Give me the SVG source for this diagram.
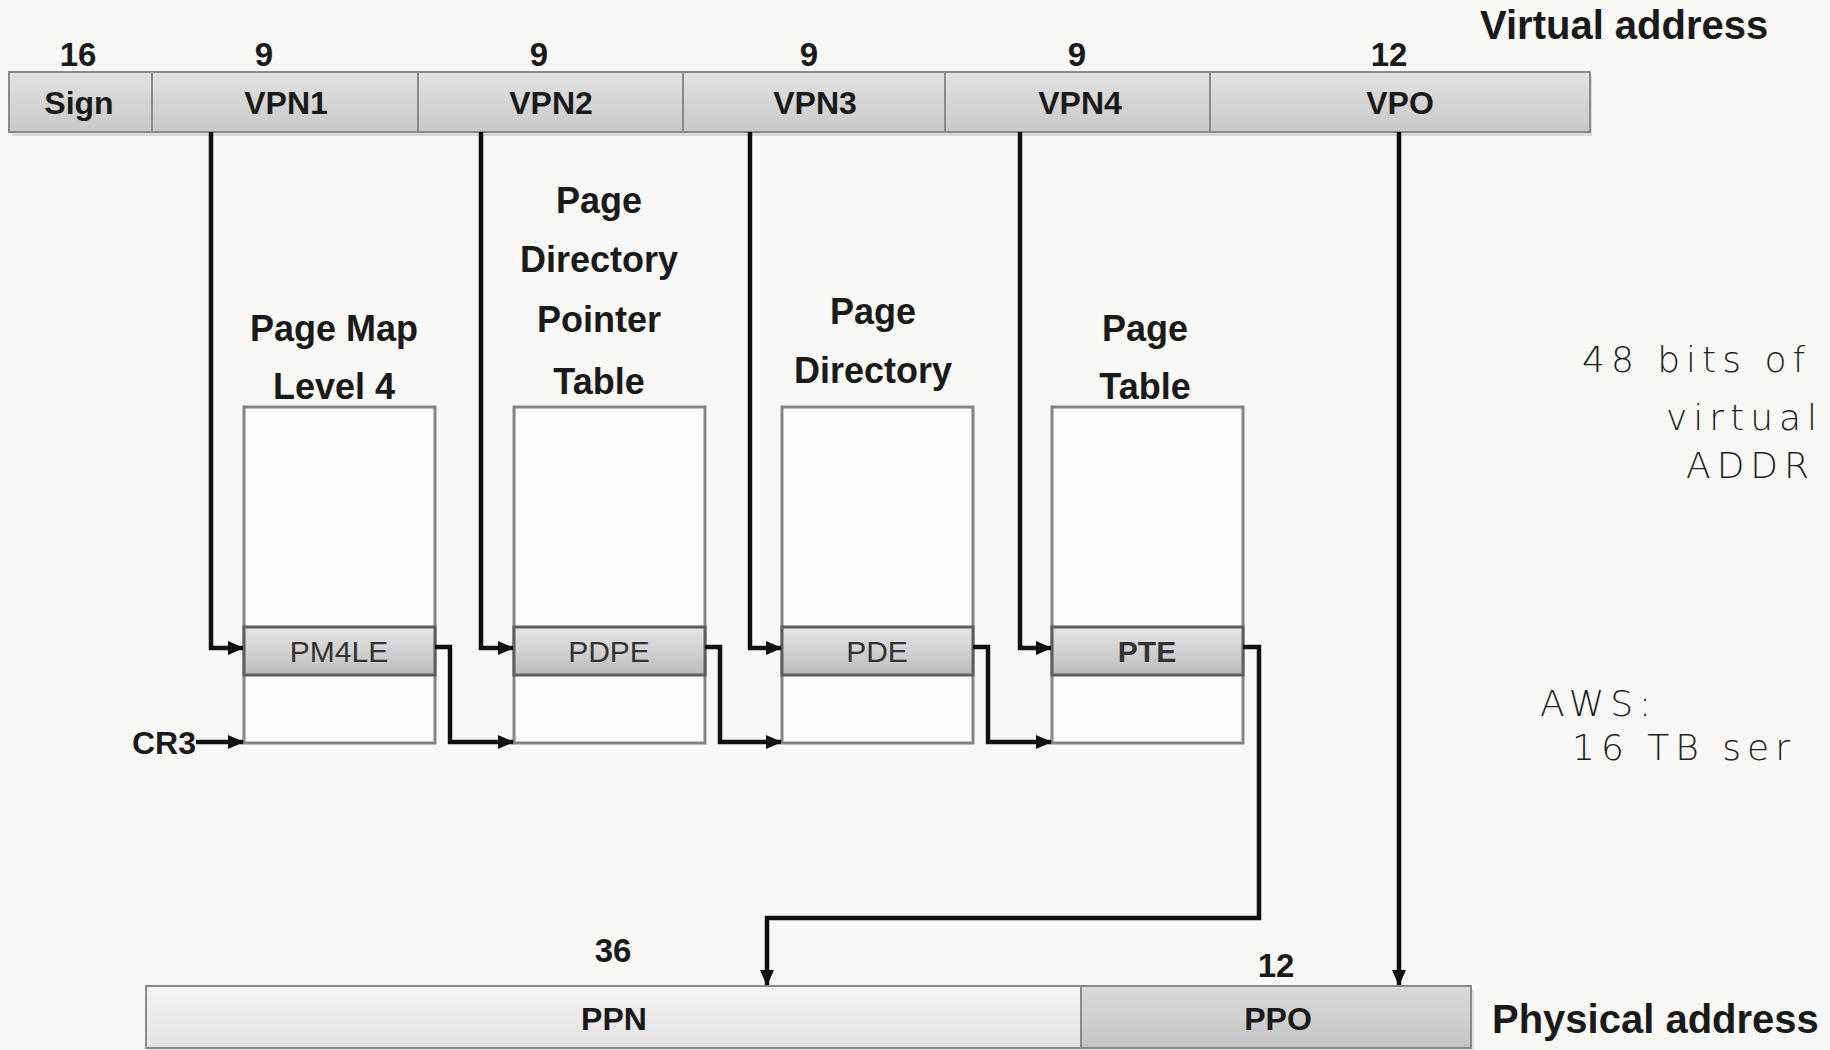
<svg xmlns="http://www.w3.org/2000/svg" width="1830" height="1050" viewBox="0 0 1830 1050">
<defs>
<linearGradient id="barG" x1="0" y1="0" x2="0" y2="1">
<stop offset="0" stop-color="#e2e2e2"/><stop offset="1" stop-color="#c9c9c9"/>
</linearGradient>
<linearGradient id="ppnG" x1="0" y1="0" x2="0" y2="1">
<stop offset="0" stop-color="#f4f4f4"/><stop offset="1" stop-color="#e2e2e2"/>
</linearGradient>
<linearGradient id="ppoG" x1="0" y1="0" x2="0" y2="1">
<stop offset="0" stop-color="#dadada"/><stop offset="1" stop-color="#c4c4c4"/>
</linearGradient>
<linearGradient id="entG" x1="0" y1="0" x2="0" y2="1">
<stop offset="0" stop-color="#e6e6e6"/><stop offset="1" stop-color="#bcbcbc"/>
</linearGradient>
<marker id="arr" markerUnits="userSpaceOnUse" markerWidth="16" markerHeight="14" refX="15" refY="7" orient="auto">
<path d="M0,0 L16,7 L0,14 z" fill="#111"/>
</marker>
</defs>
<style>
.b{font-family:"Liberation Sans",Arial,sans-serif;font-weight:bold;fill:#1a1a1a;text-anchor:middle}
.fld{font-size:32px}
.num{font-size:33px}
.ttl{font-size:36px}
.big{font-size:40px;text-anchor:start}
.ent{font-family:"Liberation Sans",Arial,sans-serif;font-size:30px;fill:#333;text-anchor:middle}
.cell{stroke:#8a8a8a;stroke-width:2}
.tbl{fill:#fbfbfb;stroke:#858585;stroke-width:3}
.row{fill:url(#entG);stroke:#5e5e5e;stroke-width:3}
.con{fill:none;stroke:#111;stroke-width:4.5;stroke-linejoin:miter}
.hand{font-family:"DejaVu Sans",sans-serif;font-weight:300;fill:#1e1e1e;font-size:36px;letter-spacing:6px}
</style>
<rect width="1830" height="1050" fill="#f8f8f6"/>

<g id="virtual-address">
<rect x="12" y="76" width="1580" height="60" fill="#bbb" opacity="0.5"/>
<rect x="9" y="72" width="1581" height="60" fill="url(#barG)" class="cell"/>
<line x1="152" y1="72" x2="152" y2="132" class="cell"/>
<line x1="418" y1="72" x2="418" y2="132" class="cell"/>
<line x1="683" y1="72" x2="683" y2="132" class="cell"/>
<line x1="945" y1="72" x2="945" y2="132" class="cell"/>
<line x1="1210" y1="72" x2="1210" y2="132" class="cell"/>
<text class="b fld" x="79" y="114">Sign</text>
<text class="b fld" x="286" y="114">VPN1</text>
<text class="b fld" x="551" y="114">VPN2</text>
<text class="b fld" x="815" y="114">VPN3</text>
<text class="b fld" x="1080" y="114">VPN4</text>
<text class="b fld" x="1400" y="114">VPO</text>
<text class="b num" x="78" y="66">16</text>
<text class="b num" x="264" y="66">9</text>
<text class="b num" x="539" y="66">9</text>
<text class="b num" x="809" y="66">9</text>
<text class="b num" x="1077" y="66">9</text>
<text class="b num" x="1389" y="66">12</text>
<text class="b big" x="1480" y="39">Virtual address</text>
</g>

<g id="pml4">
<text class="b ttl" x="334" y="341">Page Map</text>
<text class="b ttl" x="334" y="399">Level 4</text>
<rect class="tbl" x="244" y="407" width="191" height="336"/>
<rect class="row" x="244" y="627" width="191" height="48"/>
<text class="ent" x="339" y="662">PM4LE</text>
</g>

<g id="pdpt">
<text class="b ttl" x="599" y="213">Page</text>
<text class="b ttl" x="599" y="272">Directory</text>
<text class="b ttl" x="599" y="332">Pointer</text>
<text class="b ttl" x="599" y="394">Table</text>
<rect class="tbl" x="514" y="407" width="191" height="336"/>
<rect class="row" x="514" y="627" width="191" height="48"/>
<text class="ent" x="609" y="662">PDPE</text>
</g>

<g id="pd">
<text class="b ttl" x="873" y="324">Page</text>
<text class="b ttl" x="873" y="383">Directory</text>
<rect class="tbl" x="782" y="407" width="191" height="336"/>
<rect class="row" x="782" y="627" width="191" height="48"/>
<text class="ent" x="877" y="662">PDE</text>
</g>

<g id="pt">
<text class="b ttl" x="1145" y="341">Page</text>
<text class="b ttl" x="1145" y="399">Table</text>
<rect class="tbl" x="1052" y="407" width="191" height="336"/>
<rect class="row" x="1052" y="627" width="191" height="48"/>
<text class="ent" x="1147" y="662" font-weight="bold">PTE</text>
</g>

<g id="cr3">
<text class="b fld" x="164" y="754" font-size="29px">CR3</text>
</g>

<g id="physical-address">
<rect x="149" y="990" width="1325" height="62" fill="#bbb" opacity="0.4"/>
<rect x="146" y="986" width="935" height="62" fill="url(#ppnG)" class="cell"/>
<rect x="1081" y="986" width="390" height="62" fill="url(#ppoG)" class="cell"/>
<text class="b fld" x="614" y="1030" font-size="30px">PPN</text>
<text class="b fld" x="1278" y="1030" font-size="30px">PPO</text>
<text class="b num" x="613" y="962">36</text>
<text class="b num" x="1276" y="977">12</text>
<text class="b big" x="1492" y="1033">Physical address</text>
</g>

<g id="notes">
<text class="hand" x="1582" y="372" font-size="42px">48 bits of</text>
<text class="hand" x="1666" y="430" font-size="34px">virtual</text>
<text class="hand" x="1686" y="478" font-size="40px">ADDR</text>
<text class="hand" x="1540" y="716" font-size="38px">AWS:</text>
<text class="hand" x="1572" y="760" font-size="36px">16 TB ser</text>
</g>

<g id="connectors">
<path class="con" d="M211,132 V648 H243" marker-end="url(#arr)"/>
<path class="con" d="M481,132 V648 H513" marker-end="url(#arr)"/>
<path class="con" d="M750,132 V648 H781" marker-end="url(#arr)"/>
<path class="con" d="M1020,132 V648 H1051" marker-end="url(#arr)"/>
<path class="con" d="M435,647 H450 V742 H513" marker-end="url(#arr)"/>
<path class="con" d="M705,647 H720 V742 H781" marker-end="url(#arr)"/>
<path class="con" d="M973,647 H988 V742 H1051" marker-end="url(#arr)"/>
<path class="con" d="M196,742 H243" marker-end="url(#arr)"/>
<path class="con" d="M1243,647 H1259 V918 H767 V985" marker-end="url(#arr)"/>
<path class="con" d="M1399,132 V985" stroke-width="3.5" marker-end="url(#arr)"/>
</g>
</svg>
